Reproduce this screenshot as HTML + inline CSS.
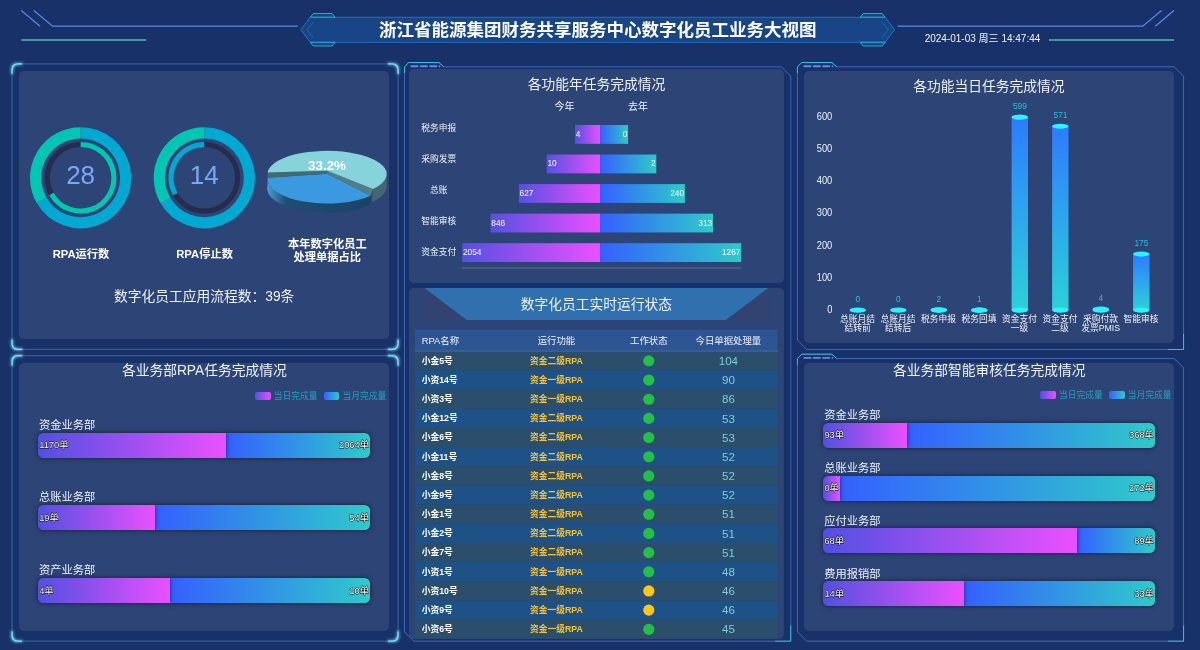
<!DOCTYPE html>
<html lang="zh-CN"><head><meta charset="utf-8"><title>数字化员工业务大视图</title>
<style>
html,body{margin:0;padding:0;background:#183169;}
body{width:1200px;height:650px;overflow:hidden;position:relative;font-family:"Liberation Sans","Noto Sans CJK SC",sans-serif;color:#fff;}
.pn{position:absolute;background:#2d4476;}
svg.ov{position:absolute;left:0;top:0;}
svg text{font-family:"Liberation Sans","Noto Sans CJK SC",sans-serif;}
.abs{position:absolute;}
.bp{position:absolute;background:linear-gradient(90deg,#5250e1,#ea50ff);border-radius:5.5px 0 0 5.5px;box-shadow:0 0 5px rgba(0,0,0,0.55);}
.bb{position:absolute;background:linear-gradient(90deg,#3560ff,#2ecaca);border-radius:0 5.5px 5.5px 0;box-shadow:0 0 5px rgba(0,0,0,0.55);}
.sw{position:absolute;border-radius:2px;}
</style></head><body>
<div class="pn" style="left:19px;top:71px;width:370px;height:267.9px;border-radius:5px"></div>
<div class="pn" style="left:19px;top:363px;width:370px;height:267.6px;border-radius:5px"></div>
<div class="pn" style="left:408.9px;top:69.4px;width:375.2px;height:214.1px;border-radius:5px"></div>
<div class="pn" style="left:408.9px;top:288px;width:375.2px;height:350.8px;border-radius:5px"></div>
<div class="pn" style="left:804.2px;top:71px;width:369.7px;height:271.6px;border-radius:5px"></div>
<div class="pn" style="left:804.2px;top:362.7px;width:369.7px;height:267.9px;border-radius:5px"></div>
<div class="sw" style="left:255px;top:391.7px;width:15.8px;height:8.8px;background:linear-gradient(90deg,#5250e1,#ea50ff)"></div>
<div class="sw" style="left:323.6px;top:391.7px;width:15.8px;height:8.8px;background:linear-gradient(90deg,#3560ff,#2ecaca)"></div>
<div class="bb" style="left:226.3px;top:432.7px;width:143.9px;height:25px"></div>
<div class="bp" style="left:37.6px;top:432.7px;width:188.7px;height:25px"></div>
<div class="bb" style="left:154.6px;top:505.2px;width:215.6px;height:25px"></div>
<div class="bp" style="left:37.6px;top:505.2px;width:117px;height:25px"></div>
<div class="bb" style="left:170.4px;top:578.2px;width:199.8px;height:25px"></div>
<div class="bp" style="left:37.6px;top:578.2px;width:132.8px;height:25px"></div>
<div class="sw" style="left:1040.3px;top:390.7px;width:15.8px;height:8.8px;background:linear-gradient(90deg,#5250e1,#ea50ff)"></div>
<div class="sw" style="left:1108.9px;top:390.7px;width:15.8px;height:8.8px;background:linear-gradient(90deg,#3560ff,#2ecaca)"></div>
<div class="bb" style="left:907px;top:422.7px;width:248.1px;height:25px"></div>
<div class="bp" style="left:822.8px;top:422.7px;width:84.2px;height:25px"></div>
<div class="bb" style="left:840px;top:475.8px;width:315.1px;height:25px"></div>
<div class="bp" style="left:822.8px;top:475.8px;width:17.2px;height:25px"></div>
<div class="bb" style="left:1077px;top:528.4px;width:78.1px;height:25px"></div>
<div class="bp" style="left:822.8px;top:528.4px;width:254.2px;height:25px"></div>
<div class="bb" style="left:964px;top:581.4px;width:191.1px;height:25px"></div>
<div class="bp" style="left:822.8px;top:581.4px;width:141.2px;height:25px"></div>
<svg class="ov" width="1200" height="650" viewBox="0 0 1200 650">
<defs>
<filter id="glow" x="-50%" y="-50%" width="200%" height="200%">
<feMorphology operator="dilate" radius="0.6" in="SourceAlpha" result="thicken"/>
<feGaussianBlur in="thicken" stdDeviation="1.15" result="blurred"/>
<feFlood flood-color="#7ce7fd" flood-opacity="0.55" result="glowColor"/>
<feComposite in="glowColor" in2="blurred" operator="in" result="soft"/>
<feMerge><feMergeNode in="soft"/><feMergeNode in="SourceGraphic"/></feMerge>
</filter>
<linearGradient id="pwall" x1="0" y1="0" x2="1" y2="0"><stop offset="0" stop-color="#4a9fd6"/><stop offset="0.18" stop-color="#1f4d74"/><stop offset="1" stop-color="#1b4366"/></linearGradient>
<linearGradient id="gp" x1="0" y1="0" x2="1" y2="0"><stop offset="0" stop-color="#5650e2"/><stop offset="1" stop-color="#ea50ff"/></linearGradient>
<linearGradient id="gb" x1="0" y1="0" x2="1" y2="0"><stop offset="0" stop-color="#3560ff"/><stop offset="1" stop-color="#2ecaca"/></linearGradient>
<linearGradient id="gc" x1="0" y1="0" x2="0" y2="1"><stop offset="0" stop-color="#2e7bff"/><stop offset="1" stop-color="#2cd0d8"/></linearGradient>
</defs>
<polyline fill="none" stroke="#568aea" stroke-width="1.25" points="21.3,10.6 40.05,26.23"/>
<polyline fill="none" stroke="#568aea" stroke-width="1.25" points="33.8,10.6 52.55,26.23 297.7,26.23"/>
<polyline fill="none" stroke="#3f96a5" stroke-width="1.88" points="21.3,39.98 146.3,39.98"/>
<polygon fill="#2cf7fe" fill-opacity="0.1" stroke="#2cf7fe" stroke-width="0.62" points="310.2,17.25 313.32,13.5 332.07,13.5 335.2,17.25"/>
<polygon fill="#2cf7fe" fill-opacity="0.1" stroke="#2cf7fe" stroke-width="0.62" points="310.2,42.25 313.32,46 332.07,46 335.2,42.25"/>
<polygon fill="#2cf7fe" fill-opacity="0.1" stroke="#2cf7fe" stroke-width="0.62" points="885.2,17.25 882.08,13.5 863.33,13.5 860.2,17.25"/>
<polygon fill="#2cf7fe" fill-opacity="0.1" stroke="#2cf7fe" stroke-width="0.62" points="885.2,42.25 882.08,46 863.33,46 860.2,42.25"/>
<polygon fill="#1a98fc" fill-opacity="0.2" stroke="#1a98fc" stroke-width="0.62" points="310.2,17.25 300.82,29.75 310.2,42.25 885.2,42.25 894.58,29.75 885.2,17.25"/>
<polyline fill="none" stroke="#1a98fc" stroke-opacity="0.7" stroke-width="0.62" points="313.32,22.25 307.07,29.75 313.32,37.25"/>
<polyline fill="none" stroke="#1a98fc" stroke-opacity="0.7" stroke-width="0.62" points="882.08,22.25 888.33,29.75 882.08,37.25"/>
<polyline fill="none" stroke="#568aea" stroke-width="1.25" points="1174,10.6 1155.25,26.23"/>
<polyline fill="none" stroke="#568aea" stroke-width="1.25" points="1161.5,10.6 1142.75,26.23 897.7,26.23"/>
<polyline fill="none" stroke="#3f96a5" stroke-width="1.88" points="1174,39.98 1049,39.98"/>
<path fill="none" stroke="#2e6099" stroke-width="1.25" d="M 18.27 63.83 L 391.83 63.83 Q 398.08 63.83 398.08 70.08 L 398.08 343.22 Q 398.08 349.47 391.83 349.47 L 18.27 349.47 Q 12.03 349.47 12.03 343.22 L 12.03 70.08 Q 12.03 63.83 18.27 63.83"/>
<path fill="none" stroke="#7ce7fd" stroke-width="1.25" stroke-linecap="round" filter="url(#glow)" d="M 21.4 63.83 L 18.27 63.83 Q 12.03 63.83 12.03 70.08 L 12.03 73.2"/>
<path fill="none" stroke="#7ce7fd" stroke-width="1.25" stroke-linecap="round" filter="url(#glow)" d="M 388.7 63.83 L 391.83 63.83 Q 398.08 63.83 398.08 70.08 L 398.08 73.2"/>
<path fill="none" stroke="#7ce7fd" stroke-width="1.25" stroke-linecap="round" filter="url(#glow)" d="M 388.7 349.47 L 391.83 349.47 Q 398.08 349.47 398.08 343.22 L 398.08 340.1"/>
<path fill="none" stroke="#7ce7fd" stroke-width="1.25" stroke-linecap="round" filter="url(#glow)" d="M 21.4 349.47 L 18.27 349.47 Q 12.03 349.47 12.03 343.22 L 12.03 340.1"/>
<path fill="none" stroke="#2e6099" stroke-width="1.25" d="M 18.27 355.52 L 391.83 355.52 Q 398.08 355.52 398.08 361.77 L 398.08 634.92 Q 398.08 641.17 391.83 641.17 L 18.27 641.17 Q 12.03 641.17 12.03 634.92 L 12.03 361.77 Q 12.03 355.52 18.27 355.52"/>
<path fill="none" stroke="#7ce7fd" stroke-width="1.25" stroke-linecap="round" filter="url(#glow)" d="M 21.4 355.52 L 18.27 355.52 Q 12.03 355.52 12.03 361.77 L 12.03 364.9"/>
<path fill="none" stroke="#7ce7fd" stroke-width="1.25" stroke-linecap="round" filter="url(#glow)" d="M 388.7 355.52 L 391.83 355.52 Q 398.08 355.52 398.08 361.77 L 398.08 364.9"/>
<path fill="none" stroke="#7ce7fd" stroke-width="1.25" stroke-linecap="round" filter="url(#glow)" d="M 388.7 641.17 L 391.83 641.17 Q 398.08 641.17 398.08 634.92 L 398.08 631.8"/>
<path fill="none" stroke="#7ce7fd" stroke-width="1.25" stroke-linecap="round" filter="url(#glow)" d="M 21.4 641.17 L 18.27 641.17 Q 12.03 641.17 12.03 634.92 L 12.03 631.8"/>
<path fill="none" stroke="#6586ec" stroke-width="0.62" d="M 404.43 73.1 L 404.43 66.85 L 408.8 62.48 L 438.8 62.48 L 443.8 66.85 L 781.4 66.85 L 790.78 76.22 L 790.78 641.18 L 413.8 641.18 L 404.43 631.8 L 404.43 73.1"/>
<path fill="none" stroke="#6586ec" stroke-width="1.88" stroke-linecap="round" stroke-dasharray="6.25,3.12" d="M 411.3 66.22 L 439.43 66.22"/>
<path fill="none" stroke="#2cf7fe" stroke-width="0.62" d="M 404.43 73.1 L 404.43 66.85 L 408.8 62.48 L 438.8 62.48 L 443.8 66.85"/>
<path fill="none" stroke="#2cf7fe" stroke-width="0.62" d="M 790.78 625.55 L 790.78 641.18 L 775.15 641.18"/>
<path fill="none" stroke="#6586ec" stroke-width="0.62" d="M 797.42 73.1 L 797.42 66.85 L 801.8 62.48 L 831.8 62.48 L 836.8 66.85 L 1174.2 66.85 L 1183.57 76.22 L 1183.57 349.48 L 806.8 349.48 L 797.42 340.1 L 797.42 73.1"/>
<path fill="none" stroke="#6586ec" stroke-width="1.88" stroke-linecap="round" stroke-dasharray="6.25,3.12" d="M 804.3 66.22 L 832.42 66.22"/>
<path fill="none" stroke="#2cf7fe" stroke-width="0.62" d="M 797.42 73.1 L 797.42 66.85 L 801.8 62.48 L 831.8 62.48 L 836.8 66.85"/>
<path fill="none" stroke="#2cf7fe" stroke-width="0.62" d="M 1183.57 333.85 L 1183.57 349.48 L 1167.95 349.48"/>
<path fill="none" stroke="#6586ec" stroke-width="0.62" d="M 797.42 364.8 L 797.42 358.55 L 801.8 354.18 L 831.8 354.18 L 836.8 358.55 L 1174.2 358.55 L 1183.57 367.93 L 1183.57 641.17 L 806.8 641.17 L 797.42 631.8 L 797.42 364.8"/>
<path fill="none" stroke="#6586ec" stroke-width="1.88" stroke-linecap="round" stroke-dasharray="6.25,3.12" d="M 804.3 357.93 L 832.42 357.93"/>
<path fill="none" stroke="#2cf7fe" stroke-width="0.62" d="M 797.42 364.8 L 797.42 358.55 L 801.8 354.18 L 831.8 354.18 L 836.8 358.55"/>
<path fill="none" stroke="#2cf7fe" stroke-width="0.62" d="M 1183.57 625.55 L 1183.57 641.17 L 1167.95 641.17"/>
<text x="597.7" y="29.9" font-size="17.5" fill="#fff" text-anchor="middle" font-weight="bold" dominant-baseline="central" >浙江省能源集团财务共享服务中心数字化员工业务大视图</text>
<text x="982.5" y="38.2" font-size="10" fill="#f2f5fb" text-anchor="middle" font-weight="normal" dominant-baseline="central" >2024-01-03 周三 14:47:44</text>
<path fill="none" stroke="#00a9d1" stroke-width="11.2" d="M 80.6 132.8 A 45 45 0 1 1 41.63 200.3"/>
<path fill="none" stroke="#00c6b4" stroke-width="11.2" d="M 41.63 200.3 A 45 45 0 0 1 80.6 132.8"/>
<circle cx="80.6" cy="177.8" r="33.3" fill="none" stroke="#262c4d" stroke-width="5.2"/>
<path fill="none" stroke="#00c6b4" stroke-width="5.2" d="M 80.6 144.5 A 33.3 33.3 0 1 1 51.48 193.94"/>
<text x="80.6" y="174.6" font-size="26" fill="#7aa7f6" text-anchor="middle" font-weight="normal" dominant-baseline="central" >28</text>
<path fill="none" stroke="#00a9d1" stroke-width="11.2" d="M 204.3 132.8 A 45 45 0 1 1 165.33 200.3"/>
<path fill="none" stroke="#00c6b4" stroke-width="11.2" d="M 165.33 200.3 A 45 45 0 0 1 204.3 132.8"/>
<circle cx="204.3" cy="177.8" r="33.3" fill="none" stroke="#262c4d" stroke-width="5.2"/>
<path fill="none" stroke="#00a9d1" stroke-width="5.2" d="M 175.18 193.94 A 33.3 33.3 0 0 1 204.3 144.5"/>
<text x="204.3" y="174.6" font-size="26" fill="#7aa7f6" text-anchor="middle" font-weight="normal" dominant-baseline="central" >14</text>
<text x="81" y="253.85" font-size="11.25" fill="#fff" text-anchor="middle" font-weight="bold" dominant-baseline="central" >RPA运行数</text>
<text x="204.6" y="253.85" font-size="11.25" fill="#fff" text-anchor="middle" font-weight="bold" dominant-baseline="central" >RPA停止数</text>
<text x="327.3" y="243.95" font-size="11.25" fill="#fff" text-anchor="middle" font-weight="bold" dominant-baseline="central" >本年数字化员工</text>
<text x="327.3" y="256.85" font-size="11.25" fill="#fff" text-anchor="middle" font-weight="bold" dominant-baseline="central" >处理单据占比</text>
<text x="204.2" y="296.35" font-size="13.75" fill="#eef2fa" text-anchor="middle" font-weight="normal" dominant-baseline="central" >数字化员工应用流程数：39条</text>
<path fill="url(#pwall)" d="M 267.5 179 A 59.6 24.5 0 0 0 370.8 195.66 L 370.8 204.86 A 59.6 24.5 0 0 1 267.5 185.44 Z"/>
<path fill="#3b9adf" d="M 327.2 173.8 L 370.8 195.66 A 59.6 24.5 0 0 1 267.58 177.72 Z"/>
<path fill="#44676f" d="M 386.7 174.1 A 59.6 23.3 0 0 1 372.99 188.97 L 371.99 201.97 A 59.6 23.3 0 0 0 386.7 187.1 Z"/>
<polygon fill="#406b73" points="327.2,170.8 267.65,172.47 267.58,177.72 327.2,173.8"/>
<polygon fill="#4f8088" points="327.2,170.8 372.99,188.97 370.8,195.66 327.2,173.8"/>
<path fill="#86d3dc" d="M 327.2 170.8 L 267.65 172.47 A 59.6 23.3 0 1 1 372.99 188.97 Z"/>
<text x="327" y="165.7" font-size="13.4" fill="#fff" text-anchor="middle" font-weight="bold" dominant-baseline="central" >33.2%</text>
<text x="596.5" y="84.95" font-size="13.75" fill="#eef2fa" text-anchor="middle" font-weight="normal" dominant-baseline="central" >各功能年任务完成情况</text>
<text x="564.6" y="106.8" font-size="10" fill="#eef2fa" text-anchor="middle" font-weight="normal" dominant-baseline="central" >今年</text>
<text x="638" y="106.8" font-size="10" fill="#eef2fa" text-anchor="middle" font-weight="normal" dominant-baseline="central" >去年</text>
<rect x="575" y="125" width="25.1" height="18.8" fill="url(#gp)"/>
<rect x="600.1" y="125" width="28" height="18.8" fill="url(#gb)"/>
<text x="575.8" y="133.9" font-size="8.3" fill="#fff" text-anchor="start" font-weight="normal" dominant-baseline="central" >4</text>
<text x="627.3" y="133.9" font-size="8.3" fill="#fff" text-anchor="end" font-weight="normal" dominant-baseline="central" >0</text>
<text x="438.8" y="127.95" font-size="8.75" fill="#eef2fa" text-anchor="middle" font-weight="normal" dominant-baseline="central" >税务申报</text>
<rect x="546.7" y="154.55" width="53.4" height="18.8" fill="url(#gp)"/>
<rect x="600.1" y="154.55" width="56.2" height="18.8" fill="url(#gb)"/>
<text x="547.5" y="163.45" font-size="8.3" fill="#fff" text-anchor="start" font-weight="normal" dominant-baseline="central" >10</text>
<text x="655.5" y="163.45" font-size="8.3" fill="#fff" text-anchor="end" font-weight="normal" dominant-baseline="central" >2</text>
<text x="438.8" y="158.95" font-size="8.75" fill="#eef2fa" text-anchor="middle" font-weight="normal" dominant-baseline="central" >采购发票</text>
<rect x="518.8" y="184.1" width="81.3" height="18.8" fill="url(#gp)"/>
<rect x="600.1" y="184.1" width="84.8" height="18.8" fill="url(#gb)"/>
<text x="519.6" y="193" font-size="8.3" fill="#fff" text-anchor="start" font-weight="normal" dominant-baseline="central" >627</text>
<text x="684.1" y="193" font-size="8.3" fill="#fff" text-anchor="end" font-weight="normal" dominant-baseline="central" >240</text>
<text x="438.8" y="189.95" font-size="8.75" fill="#eef2fa" text-anchor="middle" font-weight="normal" dominant-baseline="central" >总账</text>
<rect x="490.5" y="213.65" width="109.6" height="18.8" fill="url(#gp)"/>
<rect x="600.1" y="213.65" width="112.9" height="18.8" fill="url(#gb)"/>
<text x="491.3" y="222.55" font-size="8.3" fill="#fff" text-anchor="start" font-weight="normal" dominant-baseline="central" >846</text>
<text x="712.2" y="222.55" font-size="8.3" fill="#fff" text-anchor="end" font-weight="normal" dominant-baseline="central" >313</text>
<text x="438.8" y="220.95" font-size="8.75" fill="#eef2fa" text-anchor="middle" font-weight="normal" dominant-baseline="central" >智能审核</text>
<rect x="462.2" y="243.2" width="137.9" height="18.8" fill="url(#gp)"/>
<rect x="600.1" y="243.2" width="141.1" height="18.8" fill="url(#gb)"/>
<text x="463" y="252.1" font-size="8.3" fill="#fff" text-anchor="start" font-weight="normal" dominant-baseline="central" >2054</text>
<text x="740.4" y="252.1" font-size="8.3" fill="#fff" text-anchor="end" font-weight="normal" dominant-baseline="central" >1267</text>
<text x="438.8" y="251.95" font-size="8.75" fill="#eef2fa" text-anchor="middle" font-weight="normal" dominant-baseline="central" >资金支付</text>
<line x1="462" y1="268" x2="741.3" y2="268" stroke="#8d92a0" stroke-width="0.6"/>
<rect x="424.4" y="288" width="343.9" height="32" fill="#324372"/>
<polygon points="424.4,288 768.3,288 726,320 466.7,320" fill="#3170ae"/>
<text x="596.5" y="304.85" font-size="13.75" fill="#eef2fa" text-anchor="middle" font-weight="normal" dominant-baseline="central" >数字化员工实时运行状态</text>
<rect x="415" y="329.7" width="362.5" height="21.7" fill="#2d5593"/>
<rect x="415" y="350.9" width="362.5" height="0.8" fill="#8ea6cc"/>
<text x="421.7" y="341.38" font-size="9.38" fill="#eef2fa" text-anchor="start" font-weight="normal" dominant-baseline="central" >RPA名称</text>
<text x="556.4" y="341.38" font-size="9.38" fill="#eef2fa" text-anchor="middle" font-weight="normal" dominant-baseline="central" >运行功能</text>
<text x="648.8" y="341.38" font-size="9.38" fill="#eef2fa" text-anchor="middle" font-weight="normal" dominant-baseline="central" >工作状态</text>
<text x="728.4" y="341.38" font-size="9.38" fill="#eef2fa" text-anchor="middle" font-weight="normal" dominant-baseline="central" >今日单据处理量</text>
<rect x="415" y="351.3" width="362.5" height="19.22" fill="#2b4e6d"/>
<text x="421.7" y="360.65" font-size="8.75" fill="#fff" text-anchor="start" font-weight="bold" dominant-baseline="central" >小金5号</text>
<text x="556.4" y="360.65" font-size="8.75" fill="#f8c332" text-anchor="middle" font-weight="bold" dominant-baseline="central" >资金二级RPA</text>
<circle cx="648.8" cy="360.9" r="5.6" fill="#22c045"/>
<text x="728.4" y="360.5" font-size="11.6" fill="#7fcbd7" text-anchor="middle" font-weight="normal" dominant-baseline="central" >104</text>
<rect x="415" y="370.47" width="362.5" height="19.22" fill="#1e5286"/>
<text x="421.7" y="379.82" font-size="8.75" fill="#fff" text-anchor="start" font-weight="bold" dominant-baseline="central" >小资14号</text>
<text x="556.4" y="379.82" font-size="8.75" fill="#f8c332" text-anchor="middle" font-weight="bold" dominant-baseline="central" >资金一级RPA</text>
<circle cx="648.8" cy="380.07" r="5.6" fill="#22c045"/>
<text x="728.4" y="379.67" font-size="11.6" fill="#7fcbd7" text-anchor="middle" font-weight="normal" dominant-baseline="central" >90</text>
<rect x="415" y="389.64" width="362.5" height="19.22" fill="#2b4e6d"/>
<text x="421.7" y="398.99" font-size="8.75" fill="#fff" text-anchor="start" font-weight="bold" dominant-baseline="central" >小资3号</text>
<text x="556.4" y="398.99" font-size="8.75" fill="#f8c332" text-anchor="middle" font-weight="bold" dominant-baseline="central" >资金一级RPA</text>
<circle cx="648.8" cy="399.24" r="5.6" fill="#22c045"/>
<text x="728.4" y="398.84" font-size="11.6" fill="#7fcbd7" text-anchor="middle" font-weight="normal" dominant-baseline="central" >86</text>
<rect x="415" y="408.81" width="362.5" height="19.22" fill="#1e5286"/>
<text x="421.7" y="418.16" font-size="8.75" fill="#fff" text-anchor="start" font-weight="bold" dominant-baseline="central" >小金12号</text>
<text x="556.4" y="418.16" font-size="8.75" fill="#f8c332" text-anchor="middle" font-weight="bold" dominant-baseline="central" >资金二级RPA</text>
<circle cx="648.8" cy="418.41" r="5.6" fill="#22c045"/>
<text x="728.4" y="418.01" font-size="11.6" fill="#7fcbd7" text-anchor="middle" font-weight="normal" dominant-baseline="central" >53</text>
<rect x="415" y="427.98" width="362.5" height="19.22" fill="#2b4e6d"/>
<text x="421.7" y="437.33" font-size="8.75" fill="#fff" text-anchor="start" font-weight="bold" dominant-baseline="central" >小金6号</text>
<text x="556.4" y="437.33" font-size="8.75" fill="#f8c332" text-anchor="middle" font-weight="bold" dominant-baseline="central" >资金二级RPA</text>
<circle cx="648.8" cy="437.58" r="5.6" fill="#22c045"/>
<text x="728.4" y="437.18" font-size="11.6" fill="#7fcbd7" text-anchor="middle" font-weight="normal" dominant-baseline="central" >53</text>
<rect x="415" y="447.15" width="362.5" height="19.22" fill="#1e5286"/>
<text x="421.7" y="456.5" font-size="8.75" fill="#fff" text-anchor="start" font-weight="bold" dominant-baseline="central" >小金11号</text>
<text x="556.4" y="456.5" font-size="8.75" fill="#f8c332" text-anchor="middle" font-weight="bold" dominant-baseline="central" >资金二级RPA</text>
<circle cx="648.8" cy="456.75" r="5.6" fill="#22c045"/>
<text x="728.4" y="456.35" font-size="11.6" fill="#7fcbd7" text-anchor="middle" font-weight="normal" dominant-baseline="central" >52</text>
<rect x="415" y="466.32" width="362.5" height="19.22" fill="#2b4e6d"/>
<text x="421.7" y="475.67" font-size="8.75" fill="#fff" text-anchor="start" font-weight="bold" dominant-baseline="central" >小金8号</text>
<text x="556.4" y="475.67" font-size="8.75" fill="#f8c332" text-anchor="middle" font-weight="bold" dominant-baseline="central" >资金二级RPA</text>
<circle cx="648.8" cy="475.92" r="5.6" fill="#22c045"/>
<text x="728.4" y="475.52" font-size="11.6" fill="#7fcbd7" text-anchor="middle" font-weight="normal" dominant-baseline="central" >52</text>
<rect x="415" y="485.49" width="362.5" height="19.22" fill="#1e5286"/>
<text x="421.7" y="494.84" font-size="8.75" fill="#fff" text-anchor="start" font-weight="bold" dominant-baseline="central" >小金9号</text>
<text x="556.4" y="494.84" font-size="8.75" fill="#f8c332" text-anchor="middle" font-weight="bold" dominant-baseline="central" >资金二级RPA</text>
<circle cx="648.8" cy="495.09" r="5.6" fill="#22c045"/>
<text x="728.4" y="494.69" font-size="11.6" fill="#7fcbd7" text-anchor="middle" font-weight="normal" dominant-baseline="central" >52</text>
<rect x="415" y="504.66" width="362.5" height="19.22" fill="#2b4e6d"/>
<text x="421.7" y="514.01" font-size="8.75" fill="#fff" text-anchor="start" font-weight="bold" dominant-baseline="central" >小金1号</text>
<text x="556.4" y="514.01" font-size="8.75" fill="#f8c332" text-anchor="middle" font-weight="bold" dominant-baseline="central" >资金二级RPA</text>
<circle cx="648.8" cy="514.26" r="5.6" fill="#22c045"/>
<text x="728.4" y="513.86" font-size="11.6" fill="#7fcbd7" text-anchor="middle" font-weight="normal" dominant-baseline="central" >51</text>
<rect x="415" y="523.83" width="362.5" height="19.22" fill="#1e5286"/>
<text x="421.7" y="533.18" font-size="8.75" fill="#fff" text-anchor="start" font-weight="bold" dominant-baseline="central" >小金2号</text>
<text x="556.4" y="533.18" font-size="8.75" fill="#f8c332" text-anchor="middle" font-weight="bold" dominant-baseline="central" >资金二级RPA</text>
<circle cx="648.8" cy="533.43" r="5.6" fill="#22c045"/>
<text x="728.4" y="533.03" font-size="11.6" fill="#7fcbd7" text-anchor="middle" font-weight="normal" dominant-baseline="central" >51</text>
<rect x="415" y="543" width="362.5" height="19.22" fill="#2b4e6d"/>
<text x="421.7" y="552.35" font-size="8.75" fill="#fff" text-anchor="start" font-weight="bold" dominant-baseline="central" >小金7号</text>
<text x="556.4" y="552.35" font-size="8.75" fill="#f8c332" text-anchor="middle" font-weight="bold" dominant-baseline="central" >资金二级RPA</text>
<circle cx="648.8" cy="552.6" r="5.6" fill="#22c045"/>
<text x="728.4" y="552.2" font-size="11.6" fill="#7fcbd7" text-anchor="middle" font-weight="normal" dominant-baseline="central" >51</text>
<rect x="415" y="562.17" width="362.5" height="19.22" fill="#1e5286"/>
<text x="421.7" y="571.52" font-size="8.75" fill="#fff" text-anchor="start" font-weight="bold" dominant-baseline="central" >小资1号</text>
<text x="556.4" y="571.52" font-size="8.75" fill="#f8c332" text-anchor="middle" font-weight="bold" dominant-baseline="central" >资金一级RPA</text>
<circle cx="648.8" cy="571.77" r="5.6" fill="#22c045"/>
<text x="728.4" y="571.37" font-size="11.6" fill="#7fcbd7" text-anchor="middle" font-weight="normal" dominant-baseline="central" >48</text>
<rect x="415" y="581.34" width="362.5" height="19.22" fill="#2b4e6d"/>
<text x="421.7" y="590.69" font-size="8.75" fill="#fff" text-anchor="start" font-weight="bold" dominant-baseline="central" >小资10号</text>
<text x="556.4" y="590.69" font-size="8.75" fill="#f8c332" text-anchor="middle" font-weight="bold" dominant-baseline="central" >资金一级RPA</text>
<circle cx="648.8" cy="590.94" r="5.6" fill="#ffc711"/>
<text x="728.4" y="590.54" font-size="11.6" fill="#7fcbd7" text-anchor="middle" font-weight="normal" dominant-baseline="central" >46</text>
<rect x="415" y="600.51" width="362.5" height="19.22" fill="#1e5286"/>
<text x="421.7" y="609.86" font-size="8.75" fill="#fff" text-anchor="start" font-weight="bold" dominant-baseline="central" >小资9号</text>
<text x="556.4" y="609.86" font-size="8.75" fill="#f8c332" text-anchor="middle" font-weight="bold" dominant-baseline="central" >资金一级RPA</text>
<circle cx="648.8" cy="610.11" r="5.6" fill="#ffc711"/>
<text x="728.4" y="609.71" font-size="11.6" fill="#7fcbd7" text-anchor="middle" font-weight="normal" dominant-baseline="central" >46</text>
<rect x="415" y="619.68" width="362.5" height="19.17" fill="#2b4e6d"/>
<text x="421.7" y="629.03" font-size="8.75" fill="#fff" text-anchor="start" font-weight="bold" dominant-baseline="central" >小资6号</text>
<text x="556.4" y="629.03" font-size="8.75" fill="#f8c332" text-anchor="middle" font-weight="bold" dominant-baseline="central" >资金一级RPA</text>
<circle cx="648.8" cy="629.28" r="5.6" fill="#22c045"/>
<text x="728.4" y="628.88" font-size="11.6" fill="#7fcbd7" text-anchor="middle" font-weight="normal" dominant-baseline="central" >45</text>
<text x="989" y="86.15" font-size="13.75" fill="#eef2fa" text-anchor="middle" font-weight="normal" dominant-baseline="central" >各功能当日任务完成情况</text>
<text x="832.3" y="115.5" font-size="10.6" fill="#eef2fa" text-anchor="end" font-weight="normal" dominant-baseline="central" textLength="15.51" lengthAdjust="spacingAndGlyphs">600</text>
<text x="832.3" y="147.77" font-size="10.6" fill="#eef2fa" text-anchor="end" font-weight="normal" dominant-baseline="central" textLength="15.51" lengthAdjust="spacingAndGlyphs">500</text>
<text x="832.3" y="180.04" font-size="10.6" fill="#eef2fa" text-anchor="end" font-weight="normal" dominant-baseline="central" textLength="15.51" lengthAdjust="spacingAndGlyphs">400</text>
<text x="832.3" y="212.31" font-size="10.6" fill="#eef2fa" text-anchor="end" font-weight="normal" dominant-baseline="central" textLength="15.51" lengthAdjust="spacingAndGlyphs">300</text>
<text x="832.3" y="244.58" font-size="10.6" fill="#eef2fa" text-anchor="end" font-weight="normal" dominant-baseline="central" textLength="15.51" lengthAdjust="spacingAndGlyphs">200</text>
<text x="832.3" y="276.85" font-size="10.6" fill="#eef2fa" text-anchor="end" font-weight="normal" dominant-baseline="central" textLength="15.51" lengthAdjust="spacingAndGlyphs">100</text>
<text x="832.3" y="309.12" font-size="10.6" fill="#eef2fa" text-anchor="end" font-weight="normal" dominant-baseline="central" textLength="5.17" lengthAdjust="spacingAndGlyphs">0</text>
<ellipse cx="857.8" cy="310.2" rx="8.2" ry="2.6" fill="#26f6fa"/>
<text x="857.9" y="299.3" font-size="8.4" fill="#29bedb" text-anchor="middle" font-weight="normal" dominant-baseline="central" >0</text>
<text x="857.6" y="319.25" font-size="8.75" fill="#eef2fa" text-anchor="middle" font-weight="normal" dominant-baseline="central" >总账月结</text>
<text x="857.6" y="328.05" font-size="8.75" fill="#eef2fa" text-anchor="middle" font-weight="normal" dominant-baseline="central" >结转前</text>
<ellipse cx="898.3" cy="310.2" rx="8.2" ry="2.6" fill="#26f6fa"/>
<text x="898.4" y="299.3" font-size="8.4" fill="#29bedb" text-anchor="middle" font-weight="normal" dominant-baseline="central" >0</text>
<text x="898.1" y="319.25" font-size="8.75" fill="#eef2fa" text-anchor="middle" font-weight="normal" dominant-baseline="central" >总账月结</text>
<text x="898.1" y="328.05" font-size="8.75" fill="#eef2fa" text-anchor="middle" font-weight="normal" dominant-baseline="central" >结转后</text>
<rect x="930.6" y="309.25" width="16.4" height="0.65" fill="url(#gc)"/>
<ellipse cx="938.8" cy="310.2" rx="8.2" ry="2.6" fill="#26f6fa"/>
<ellipse cx="938.8" cy="309.85" rx="8.2" ry="2.6" fill="#26f6fa"/>
<text x="938.9" y="298.65" font-size="8.4" fill="#29bedb" text-anchor="middle" font-weight="normal" dominant-baseline="central" >2</text>
<text x="938.6" y="319.25" font-size="8.75" fill="#eef2fa" text-anchor="middle" font-weight="normal" dominant-baseline="central" >税务申报</text>
<rect x="971.1" y="309.58" width="16.4" height="0.32" fill="url(#gc)"/>
<ellipse cx="979.3" cy="310.2" rx="8.2" ry="2.6" fill="#26f6fa"/>
<ellipse cx="979.3" cy="310.18" rx="8.2" ry="2.6" fill="#26f6fa"/>
<text x="979.4" y="298.98" font-size="8.4" fill="#29bedb" text-anchor="middle" font-weight="normal" dominant-baseline="central" >1</text>
<text x="979.1" y="319.25" font-size="8.75" fill="#eef2fa" text-anchor="middle" font-weight="normal" dominant-baseline="central" >税务回填</text>
<rect x="1011.6" y="116.6" width="16.4" height="193.3" fill="url(#gc)"/>
<ellipse cx="1019.8" cy="310.2" rx="8.2" ry="2.6" fill="#26f6fa"/>
<ellipse cx="1019.8" cy="117.2" rx="8.2" ry="2.6" fill="#26f6fa"/>
<text x="1019.9" y="106" font-size="8.4" fill="#29bedb" text-anchor="middle" font-weight="normal" dominant-baseline="central" >599</text>
<text x="1019.6" y="319.25" font-size="8.75" fill="#eef2fa" text-anchor="middle" font-weight="normal" dominant-baseline="central" >资金支付</text>
<text x="1019.6" y="328.05" font-size="8.75" fill="#eef2fa" text-anchor="middle" font-weight="normal" dominant-baseline="central" >一级</text>
<rect x="1052.1" y="125.64" width="16.4" height="184.26" fill="url(#gc)"/>
<ellipse cx="1060.3" cy="310.2" rx="8.2" ry="2.6" fill="#26f6fa"/>
<ellipse cx="1060.3" cy="126.24" rx="8.2" ry="2.6" fill="#26f6fa"/>
<text x="1060.4" y="115.04" font-size="8.4" fill="#29bedb" text-anchor="middle" font-weight="normal" dominant-baseline="central" >571</text>
<text x="1060.1" y="319.25" font-size="8.75" fill="#eef2fa" text-anchor="middle" font-weight="normal" dominant-baseline="central" >资金支付</text>
<text x="1060.1" y="328.05" font-size="8.75" fill="#eef2fa" text-anchor="middle" font-weight="normal" dominant-baseline="central" >二级</text>
<rect x="1092.6" y="308.61" width="16.4" height="1.29" fill="url(#gc)"/>
<ellipse cx="1100.8" cy="310.2" rx="8.2" ry="2.6" fill="#26f6fa"/>
<ellipse cx="1100.8" cy="309.21" rx="8.2" ry="2.6" fill="#26f6fa"/>
<text x="1100.9" y="298.01" font-size="8.4" fill="#29bedb" text-anchor="middle" font-weight="normal" dominant-baseline="central" >4</text>
<text x="1100.6" y="319.25" font-size="8.75" fill="#eef2fa" text-anchor="middle" font-weight="normal" dominant-baseline="central" >采购付款</text>
<text x="1100.6" y="328.05" font-size="8.75" fill="#eef2fa" text-anchor="middle" font-weight="normal" dominant-baseline="central" >发票PMIS</text>
<rect x="1133.1" y="253.43" width="16.4" height="56.47" fill="url(#gc)"/>
<ellipse cx="1141.3" cy="310.2" rx="8.2" ry="2.6" fill="#26f6fa"/>
<ellipse cx="1141.3" cy="254.03" rx="8.2" ry="2.6" fill="#26f6fa"/>
<text x="1141.4" y="242.83" font-size="8.4" fill="#29bedb" text-anchor="middle" font-weight="normal" dominant-baseline="central" >175</text>
<text x="1141.1" y="319.25" font-size="8.75" fill="#eef2fa" text-anchor="middle" font-weight="normal" dominant-baseline="central" >智能审核</text>
<text x="204.3" y="370.95" font-size="13.75" fill="#eef2fa" text-anchor="middle" font-weight="normal" dominant-baseline="central" >各业务部RPA任务完成情况</text>
<text x="273.8" y="395.85" font-size="8.75" fill="#279dbf" text-anchor="start" font-weight="normal" dominant-baseline="central" >当日完成量</text>
<text x="342.5" y="395.85" font-size="8.75" fill="#279dbf" text-anchor="start" font-weight="normal" dominant-baseline="central" >当月完成量</text>
<text x="39.1" y="424.75" font-size="11.25" fill="#eef2fa" text-anchor="start" font-weight="normal" dominant-baseline="central" >资金业务部</text>
<text x="39.2" y="445.07" font-size="9.3" fill="#fff" text-anchor="start" font-weight="normal" dominant-baseline="central" stroke="#000" stroke-width="0.8" paint-order="stroke" stroke-linejoin="round">1170单</text>
<text x="369" y="445.07" font-size="9.3" fill="#fff" text-anchor="end" font-weight="normal" dominant-baseline="central" stroke="#000" stroke-width="0.8" paint-order="stroke" stroke-linejoin="round">2064单</text>
<text x="39.1" y="497.45" font-size="11.25" fill="#eef2fa" text-anchor="start" font-weight="normal" dominant-baseline="central" >总账业务部</text>
<text x="39.2" y="517.57" font-size="9.3" fill="#fff" text-anchor="start" font-weight="normal" dominant-baseline="central" stroke="#000" stroke-width="0.8" paint-order="stroke" stroke-linejoin="round">19单</text>
<text x="369" y="517.57" font-size="9.3" fill="#fff" text-anchor="end" font-weight="normal" dominant-baseline="central" stroke="#000" stroke-width="0.8" paint-order="stroke" stroke-linejoin="round">54单</text>
<text x="39.1" y="570.45" font-size="11.25" fill="#eef2fa" text-anchor="start" font-weight="normal" dominant-baseline="central" >资产业务部</text>
<text x="39.2" y="590.57" font-size="9.3" fill="#fff" text-anchor="start" font-weight="normal" dominant-baseline="central" stroke="#000" stroke-width="0.8" paint-order="stroke" stroke-linejoin="round">4单</text>
<text x="369" y="590.57" font-size="9.3" fill="#fff" text-anchor="end" font-weight="normal" dominant-baseline="central" stroke="#000" stroke-width="0.8" paint-order="stroke" stroke-linejoin="round">10单</text>
<text x="989.3" y="370.75" font-size="13.75" fill="#eef2fa" text-anchor="middle" font-weight="normal" dominant-baseline="central" >各业务部智能审核任务完成情况</text>
<text x="1059.1" y="394.85" font-size="8.75" fill="#279dbf" text-anchor="start" font-weight="normal" dominant-baseline="central" >当日完成量</text>
<text x="1127.8" y="394.85" font-size="8.75" fill="#279dbf" text-anchor="start" font-weight="normal" dominant-baseline="central" >当月完成量</text>
<text x="824.3" y="414.65" font-size="11.25" fill="#eef2fa" text-anchor="start" font-weight="normal" dominant-baseline="central" >资金业务部</text>
<text x="824.4" y="435.07" font-size="9.3" fill="#fff" text-anchor="start" font-weight="normal" dominant-baseline="central" stroke="#000" stroke-width="0.8" paint-order="stroke" stroke-linejoin="round">93单</text>
<text x="1153.9" y="435.07" font-size="9.3" fill="#fff" text-anchor="end" font-weight="normal" dominant-baseline="central" stroke="#000" stroke-width="0.8" paint-order="stroke" stroke-linejoin="round">368单</text>
<text x="824.3" y="467.85" font-size="11.25" fill="#eef2fa" text-anchor="start" font-weight="normal" dominant-baseline="central" >总账业务部</text>
<text x="824.4" y="488.17" font-size="9.3" fill="#fff" text-anchor="start" font-weight="normal" dominant-baseline="central" stroke="#000" stroke-width="0.8" paint-order="stroke" stroke-linejoin="round">0单</text>
<text x="1153.9" y="488.17" font-size="9.3" fill="#fff" text-anchor="end" font-weight="normal" dominant-baseline="central" stroke="#000" stroke-width="0.8" paint-order="stroke" stroke-linejoin="round">272单</text>
<text x="824.3" y="520.75" font-size="11.25" fill="#eef2fa" text-anchor="start" font-weight="normal" dominant-baseline="central" >应付业务部</text>
<text x="824.4" y="540.77" font-size="9.3" fill="#fff" text-anchor="start" font-weight="normal" dominant-baseline="central" stroke="#000" stroke-width="0.8" paint-order="stroke" stroke-linejoin="round">68单</text>
<text x="1153.9" y="540.77" font-size="9.3" fill="#fff" text-anchor="end" font-weight="normal" dominant-baseline="central" stroke="#000" stroke-width="0.8" paint-order="stroke" stroke-linejoin="round">89单</text>
<text x="824.3" y="573.75" font-size="11.25" fill="#eef2fa" text-anchor="start" font-weight="normal" dominant-baseline="central" >费用报销部</text>
<text x="824.4" y="593.77" font-size="9.3" fill="#fff" text-anchor="start" font-weight="normal" dominant-baseline="central" stroke="#000" stroke-width="0.8" paint-order="stroke" stroke-linejoin="round">14单</text>
<text x="1153.9" y="593.77" font-size="9.3" fill="#fff" text-anchor="end" font-weight="normal" dominant-baseline="central" stroke="#000" stroke-width="0.8" paint-order="stroke" stroke-linejoin="round">33单</text>
</svg>
</body></html>
